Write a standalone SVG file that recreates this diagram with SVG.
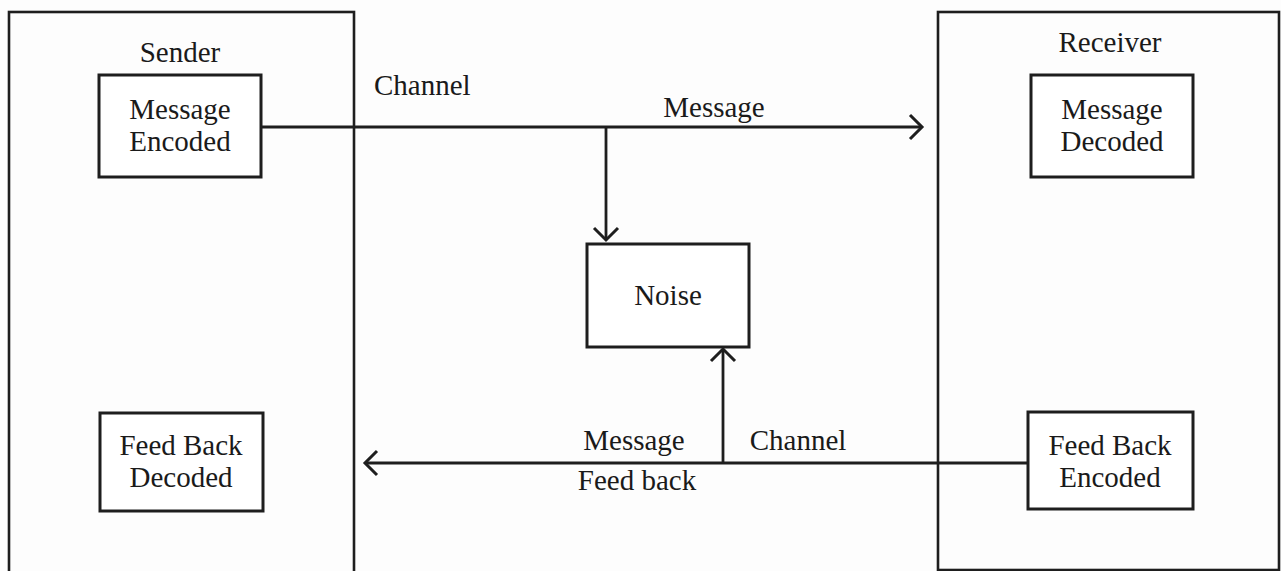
<svg xmlns="http://www.w3.org/2000/svg" width="1281" height="571" viewBox="0 0 1281 571">
  <style>
    .bg { fill: #fdfdfd; }
    .outer { fill: none; stroke: #1e1e1e; stroke-width: 2.6; }
    .box { fill: #ffffff; stroke: #1e1e1e; stroke-width: 3; }
    .conn { fill: none; stroke: #1e1e1e; stroke-width: 2.8; }
    text { font-family: "Liberation Serif", "Times New Roman", serif; font-size: 29px; fill: #1a1a1a; }
    .c { text-anchor: middle; }
  </style>
  <defs>
    <marker id="arr" markerUnits="userSpaceOnUse" markerWidth="30" markerHeight="30" viewBox="-15 -15 30 30" refX="0" refY="0" orient="auto" overflow="visible">
      <path d="M-12,-12 L0,0 L-12,12" fill="none" stroke="#1e1e1e" stroke-width="3"/>
    </marker>
  </defs>

  <rect class="bg" x="0" y="0" width="1281" height="571"/>

  <g id="sender">
    <rect class="outer" x="9" y="12" width="345" height="562"/>
    <text class="c" x="180" y="62">Sender</text>
  </g>

  <g id="receiver">
    <rect class="outer" x="938" y="12" width="341" height="558"/>
    <text class="c" x="1110" y="52">Receiver</text>
  </g>

  <g id="connectors">
    <line class="conn" x1="261" y1="127" x2="922" y2="127" marker-end="url(#arr)"/>
    <line class="conn" x1="606" y1="127" x2="606" y2="240" marker-end="url(#arr)"/>
    <line class="conn" x1="1028" y1="463" x2="365" y2="463" marker-end="url(#arr)"/>
    <line class="conn" x1="723" y1="463" x2="723" y2="349" marker-end="url(#arr)"/>
    <text x="374" y="95">Channel</text>
    <text class="c" x="714" y="117">Message</text>
    <text class="c" x="634" y="450">Message</text>
    <text class="c" x="798" y="450">Channel</text>
    <text class="c" x="637" y="490">Feed back</text>
  </g>

  <g id="message-encoded">
    <rect class="box" x="99" y="75" width="162" height="102"/>
    <text class="c" x="180" y="119">Message</text>
    <text class="c" x="180" y="151">Encoded</text>
  </g>

  <g id="message-decoded">
    <rect class="box" x="1031" y="75" width="162" height="102"/>
    <text class="c" x="1112" y="119">Message</text>
    <text class="c" x="1112" y="151">Decoded</text>
  </g>

  <g id="noise">
    <rect class="box" x="587" y="244" width="162" height="103"/>
    <text class="c" x="668" y="305">Noise</text>
  </g>

  <g id="feedback-decoded">
    <rect class="box" x="100" y="413" width="163" height="98"/>
    <text class="c" x="181" y="455">Feed Back</text>
    <text class="c" x="181" y="487">Decoded</text>
  </g>

  <g id="feedback-encoded">
    <rect class="box" x="1028" y="412" width="165" height="97"/>
    <text class="c" x="1110" y="455">Feed Back</text>
    <text class="c" x="1110" y="487">Encoded</text>
  </g>
</svg>
